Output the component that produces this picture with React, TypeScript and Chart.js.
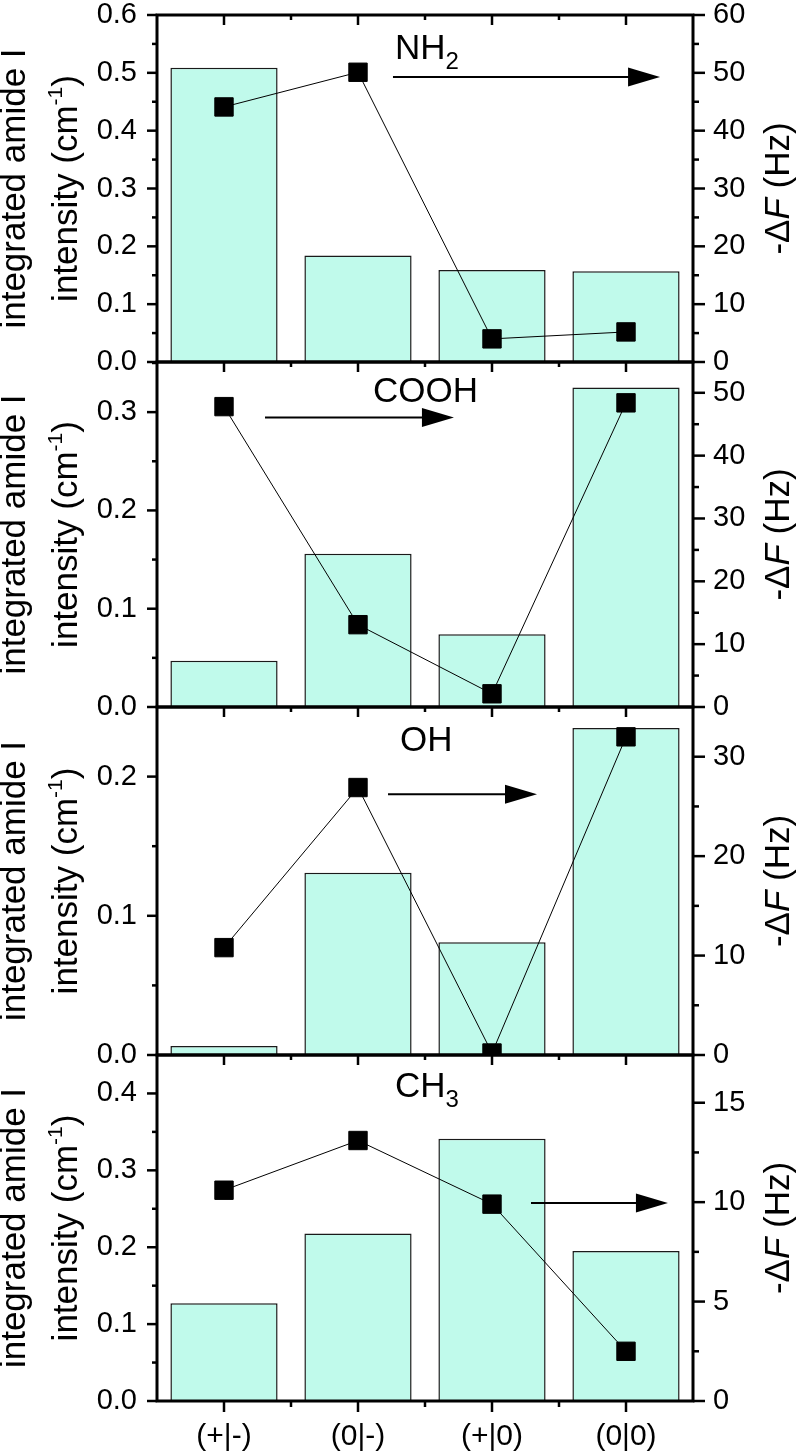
import React, { useEffect, useRef } from 'react';
import { Chart, registerables } from 'chart.js';

Chart.register(...registerables);

const FONT = "'Liberation Sans', Arial, Helvetica, sans-serif";

// ---- data ----
const categories = ['(+|-)', '(0|-)', '(+|0)', '(0|0)'];

const nh2Intensity = [0.509, 0.184, 0.159, 0.157];
const nh2DeltaF = [44.1, 50.1, 4.0, 5.2];

const coohIntensity = [0.047, 0.156, 0.074, 0.325];
const coohDeltaF = [47.8, 13.1, 2.1, 48.4];

const ohIntensity = [0.0065, 0.131, 0.081, 0.235];
const ohDeltaF = [10.8, 26.9, 0.2, 32.0];

const ch3Intensity = [0.127, 0.218, 0.341, 0.195];
const ch3DeltaF = [10.6, 13.1, 9.9, 2.5];

// ---- tick labels ----
const nh2LeftTicks = [0, 0.1, 0.2, 0.3, 0.4, 0.5, 0.6];
const nh2RightTicks = [0, 10, 20, 30, 40, 50, 60];
const coohLeftTicks = [0, 0.1, 0.2, 0.3];
const coohRightTicks = [0, 10, 20, 30, 40, 50];
const ohLeftTicks = [0, 0.1, 0.2];
const ohRightTicks = [0, 10, 20, 30];
const ch3LeftTicks = [0, 0.1, 0.2, 0.3, 0.4];
const ch3RightTicks = [0, 5, 10, 15];

// ---- panel layout (axis ranges, pixel bands, annotation anchors in data units) ----
const panels = [
  {
    label: ['NH', '2'], intensity: nh2Intensity, deltaF: nh2DeltaF,
    leftTicks: nh2LeftTicks, rightTicks: nh2RightTicks,
    leftMax: 0.6, rightMax: 60, leftMinor: 0.05, rightMinor: 5,
    top: 15, bottom: 362,
    text: { x: 1.276, y: 52.4 }, arrow: { x1: 1.261, x2: 3.254, y: 49.3 },
  },
  {
    label: ['COOH', ''], intensity: coohIntensity, deltaF: coohDeltaF,
    leftTicks: coohLeftTicks, rightTicks: coohRightTicks,
    leftMax: 0.351, rightMax: 54.9, leftMinor: 0.05, rightMinor: 5,
    top: 362, bottom: 707,
    text: { x: 1.112, y: 48.46 }, arrow: { x1: 0.306, x2: 1.716, y: 46.07 },
  },
  {
    label: ['OH', ''], intensity: ohIntensity, deltaF: ohDeltaF,
    leftTicks: ohLeftTicks, rightTicks: ohRightTicks,
    leftMax: 0.25, rightMax: 35, leftMinor: 0.05, rightMinor: 5,
    top: 707, bottom: 1055,
    text: { x: 1.313, y: 30.56 }, arrow: { x1: 1.224, x2: 2.336, y: 26.22 },
  },
  {
    label: ['CH', '3'], intensity: ch3Intensity, deltaF: ch3DeltaF,
    leftTicks: ch3LeftTicks, rightTicks: ch3RightTicks,
    leftMax: 0.45, rightMax: 17.4, leftMinor: 0.05, rightMinor: 2.5,
    top: 1055, bottom: 1401,
    text: { x: 1.276, y: 15.29 }, arrow: { x1: 2.291, x2: 3.313, y: 9.96 },
  },
];

const W = 798;
const H = 1453;
const LEFT_W = 157;
const RIGHT_W = 105;

function drawPieces(ctx: CanvasRenderingContext2D, pieces: { t: string; font: string; dy: number }[]) {
  let total = 0;
  for (const p of pieces) { ctx.font = p.font; total += ctx.measureText(p.t).width; }
  let x = -total / 2;
  for (const p of pieces) {
    ctx.font = p.font;
    ctx.fillText(p.t, x, p.dy);
    x += ctx.measureText(p.t).width;
  }
}

function makeFramePlugin(p: any, isLast: boolean) {
  return {
    id: 'frameAndText',
    afterDraw(chart: any) {
      const { ctx, chartArea: a, scales } = chart;
      const yL = scales.yL, yR = scales.yR, xs = scales.x;
      ctx.save();
      ctx.strokeStyle = '#000';
      ctx.fillStyle = '#000';

      // ticks
      ctx.lineWidth = 2.5;
      const seg = (x1: number, y1: number, x2: number, y2: number) => {
        ctx.beginPath(); ctx.moveTo(x1, y1); ctx.lineTo(x2, y2); ctx.stroke();
      };
      const near = (v: number, arr: number[]) => arr.some((m) => Math.abs(m - v) < 1e-6);
      for (const v of p.leftTicks) { const y = yL.getPixelForValue(v); seg(a.left - 10, y, a.left, y); }
      for (let v = p.leftMinor; v < p.leftMax - 1e-6; v += p.leftMinor) {
        if (near(v, p.leftTicks)) continue;
        const y = yL.getPixelForValue(v); seg(a.left - 5, y, a.left, y);
      }
      for (const v of p.rightTicks) { const y = yR.getPixelForValue(v); seg(a.right, y, a.right + 12, y); }
      for (let v = p.rightMinor; v < p.rightMax - 1e-6; v += p.rightMinor) {
        if (near(v, p.rightTicks)) continue;
        const y = yR.getPixelForValue(v); seg(a.right, y, a.right + 6, y);
      }
      for (let i = 0; i < categories.length; i++) {
        const px = xs.getPixelForValue(i);
        seg(px, a.top, px, a.top + 10);
        if (isLast) seg(px, a.bottom, px, a.bottom + 11);
      }
      for (let i = 0; i < categories.length - 1; i++) {
        const px = xs.getPixelForValue(i + 0.5);
        seg(px, a.top, px, a.top + 5);
        if (isLast) seg(px, a.bottom, px, a.bottom + 6);
      }

      // frame
      ctx.lineWidth = 3;
      ctx.strokeRect(a.left, a.top, a.right - a.left, a.bottom - a.top);

      // annotation label
      const tx = xs.getPixelForValue(p.text.x);
      const ty = yR.getPixelForValue(p.text.y);
      ctx.textAlign = 'left';
      ctx.textBaseline = 'alphabetic';
      ctx.font = `35px ${FONT}`;
      ctx.fillText(p.label[0], tx, ty);
      const mw = ctx.measureText(p.label[0]).width;
      if (p.label[1]) {
        ctx.font = `24px ${FONT}`;
        ctx.fillText(p.label[1], tx + mw, ty + 10);
      }

      // arrow
      const ax1 = xs.getPixelForValue(p.arrow.x1);
      const ax2 = xs.getPixelForValue(p.arrow.x2);
      const ay = yR.getPixelForValue(p.arrow.y);
      ctx.lineWidth = 2;
      seg(ax1, ay, ax2 - 30, ay);
      ctx.beginPath();
      ctx.moveTo(ax2, ay);
      ctx.lineTo(ax2 - 32, ay - 9.5);
      ctx.lineTo(ax2 - 32, ay + 9.5);
      ctx.closePath();
      ctx.fill();

      // axis titles
      const cy = (a.top + a.bottom) / 2;
      ctx.textAlign = 'left';
      ctx.save();
      ctx.translate(25, cy);
      ctx.rotate(-Math.PI / 2);
      drawPieces(ctx, [{ t: 'integrated amide I', font: `35px ${FONT}`, dy: 0 }]);
      ctx.restore();
      ctx.save();
      ctx.translate(77, cy);
      ctx.rotate(-Math.PI / 2);
      drawPieces(ctx, [
        { t: 'intensity (cm', font: `35px ${FONT}`, dy: 0 },
        { t: '-1', font: `21px ${FONT}`, dy: -15 },
        { t: ')', font: `35px ${FONT}`, dy: 0 },
      ]);
      ctx.restore();
      ctx.save();
      ctx.translate(789, cy);
      ctx.rotate(-Math.PI / 2);
      drawPieces(ctx, [
        { t: '-\u0394', font: `35px ${FONT}`, dy: 0 },
        { t: 'F', font: `italic 35px ${FONT}`, dy: 0 },
        { t: ' (Hz)', font: `35px ${FONT}`, dy: 0 },
      ]);
      ctx.restore();

      ctx.restore();
    },
  };
}

function Panel({ index }: { index: number }) {
  const ref = useRef<HTMLCanvasElement | null>(null);
  useEffect(() => {
    const p = panels[index];
    const isLast = index === panels.length - 1;
    const canvas = ref.current;
    if (!canvas) return;
    const chart = new Chart(canvas, {
      type: 'bar',
      data: {
        labels: categories,
        datasets: [
          {
            type: 'line',
            data: p.deltaF,
            yAxisID: 'yR',
            borderColor: '#000',
            borderWidth: 1,
            pointStyle: 'rect',
            pointRadius: 13,
            pointBackgroundColor: '#000',
            pointBorderColor: '#000',
            pointBorderWidth: 1,
            order: 1,
            clip: { left: 40, right: 40, top: 40, bottom: 0 },
          } as any,
          {
            type: 'bar',
            data: p.intensity,
            yAxisID: 'yL',
            backgroundColor: '#c0faeb',
            borderColor: '#1a1a1a',
            borderWidth: 1.5,
            categoryPercentage: 0.8,
            barPercentage: 1,
            grouped: false,
            order: 2,
          } as any,
        ],
      },
      options: {
        responsive: false,
        animation: false,
        events: [],
        layout: {
          padding: { top: p.top, bottom: isLast ? 0 : H - p.bottom, left: 0, right: 0 },
        },
        plugins: { legend: { display: false }, tooltip: { enabled: false }, title: { display: false } },
        scales: {
          x: {
            type: 'category',
            display: isLast,
            offset: true,
            grid: { color: 'transparent', drawTicks: true, tickLength: 10, offset: true },
            border: { display: false },
            ticks: {
              color: '#000', padding: 11, maxRotation: 0, autoSkip: false,
              font: { family: FONT, size: 30, lineHeight: 1 },
            },
            afterFit: (s: any) => {
              s.height = isLast ? H - p.bottom : 0;
              s.paddingLeft = 0; s.paddingRight = 0;
            },
          },
          yL: {
            type: 'linear',
            position: 'left',
            min: 0,
            max: p.leftMax,
            grid: { color: 'transparent', drawTicks: true, tickLength: 10 },
            border: { display: false },
            ticks: {
              color: '#000', padding: 10,
              font: { family: FONT, size: 29, lineHeight: 1 },
              callback: (v: any) => Number(v).toFixed(1),
            },
            afterBuildTicks: (s: any) => { s.ticks = p.leftTicks.map((v: number) => ({ value: v })); },
            afterFit: (s: any) => { s.width = LEFT_W; s.paddingTop = 0; s.paddingBottom = 0; },
          },
          yR: {
            type: 'linear',
            position: 'right',
            min: 0,
            max: p.rightMax,
            grid: { color: 'transparent', drawTicks: true, tickLength: 12, drawOnChartArea: false },
            border: { display: false },
            ticks: {
              color: '#000', padding: 8,
              font: { family: FONT, size: 29, lineHeight: 1 },
              callback: (v: any) => String(Math.round(Number(v))),
            },
            afterBuildTicks: (s: any) => { s.ticks = p.rightTicks.map((v: number) => ({ value: v })); },
            afterFit: (s: any) => { s.width = RIGHT_W; s.paddingTop = 0; s.paddingBottom = 0; },
          },
        },
      } as any,
      plugins: [makeFramePlugin(p, isLast)],
    });
    return () => chart.destroy();
  }, [index]);
  return (
    <canvas
      ref={ref}
      width={W}
      height={H}
      style={{ position: 'absolute', left: 0, top: 0, width: W, height: H }}
    />
  );
}

export default function App() {
  return (
    <div style={{ position: 'absolute', left: 0, top: 0, width: W, height: H, background: '#fff' }}>
      {panels.map((_, i) => (
        <Panel key={i} index={i} />
      ))}
    </div>
  );
}
